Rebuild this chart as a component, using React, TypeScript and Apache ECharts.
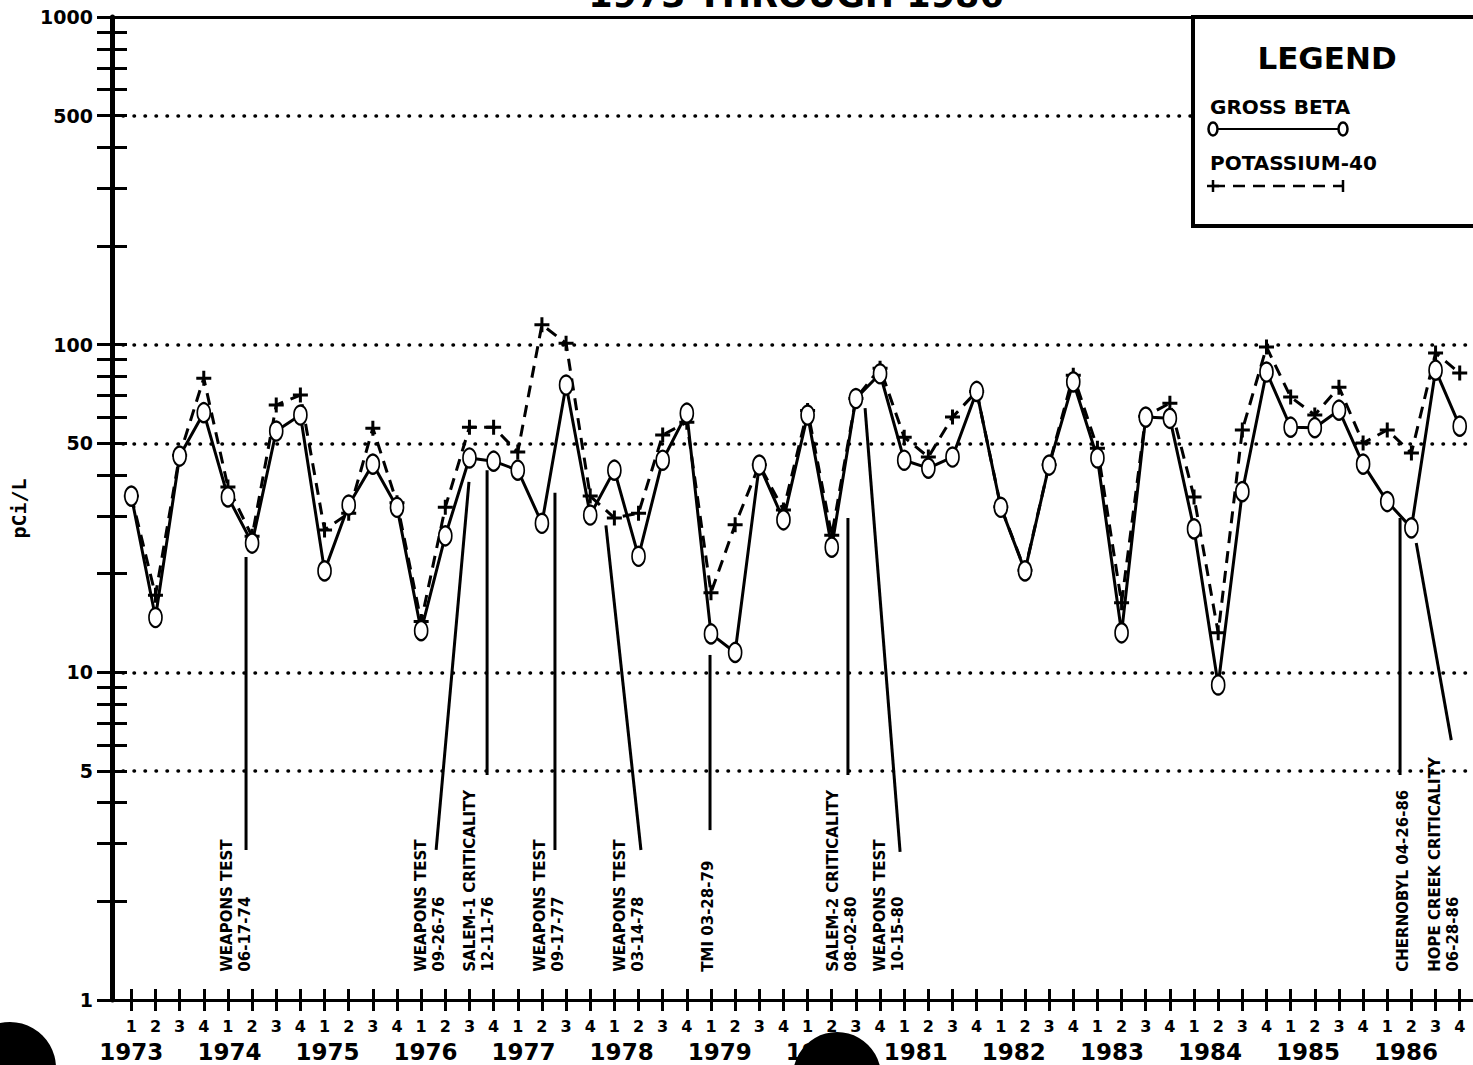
import React, { useEffect, useRef } from "react";
import * as echarts from "echarts";

// ---- data ----
const quarterNames = ["1", "2", "3", "4"];
const years = [1973, 1974, 1975, 1976, 1977, 1978, 1979, 1980, 1981, 1982, 1983, 1984, 1985, 1986];

const grossBeta = [
  34.5, 14.7, 45.7, 62, 34.3, 24.8, 54.5, 61, 20.4, 32.4, 43.2, 31.9, 13.4, 26.1,
  45.1, 44.1, 41.4, 28.5, 75.3, 30.2, 41.4, 22.6, 44.4, 61.8, 13.1, 11.5, 42.9, 29.2,
  61, 24.1, 68.5, 81.5, 44.4, 42.0, 45.4, 72, 31.9, 20.4, 42.9, 77, 45.1, 13.2,
  60.1, 59.6, 27.4, 9.15, 35.6, 82.5, 56, 55.8, 63.1, 43.2, 33.2, 27.6, 83.6, 56.4,
];

const potassium40 = [
  34.5, 17.2, 46, 79, 36.8, 26, 65.4, 70.2, 27.2, 30.6, 55.6, 32.9, 14.3, 31.9,
  56, 56, 47, 115, 101, 34.5, 29.6, 30.6, 53, 58, 17.5, 28.2, 43, 31.3,
  63, 26.2, 68.5, 84.8, 52.2, 45.4, 60.1, 72, 32, 20.5, 43, 80.7, 48.3, 16.3,
  60.5, 66.3, 34.3, 13.2, 54.9, 98.3, 69.2, 61, 74.2, 50.1, 54.9, 46.7, 94.3, 81.9,
];

const yTickValues = [
  1, 2, 3, 4, 5, 6, 7, 8, 9,
  10, 20, 30, 40, 50, 60, 70, 80, 90,
  100, 200, 300, 400, 500, 600, 700, 800, 900, 1000,
];
const yLabelValues = [1, 5, 10, 50, 100, 500, 1000];
const gridLineValues = [5, 10, 50, 100, 500];

// year label positions along the quarter index scale
const yearLabelPos = [0, 4.06, 8.12, 12.18, 16.24, 20.3, 24.36, 28.42, 32.48, 36.54, 40.6, 44.66, 48.72, 52.78];

// event annotations: text column position (quarter index), pointer line from/to [quarter index, pCi/L]
const annotationTextBase = 1.22;
const annotations = [
  { lines: ["WEAPONS TEST", "06-17-74"], textX: 3.96, from: [4.75, 2.87], to: [4.75, 22.5] },
  { lines: ["WEAPONS TEST", "09-26-76"], textX: 12.0, from: [12.62, 2.87], to: [13.98, 38.1] },
  { lines: ["SALEM-1 CRITICALITY", "12-11-76"], textX: 14.02, from: [14.73, 4.86], to: [14.73, 41.4] },
  { lines: ["WEAPONS TEST", "09-17-77"], textX: 16.93, from: [17.54, 2.87], to: [17.54, 35.3] },
  { lines: ["WEAPONS TEST", "03-14-78"], textX: 20.24, from: [21.1, 2.87], to: [19.65, 28.1] },
  { lines: ["TMI 03-28-79"], textX: 23.88, from: [23.96, 3.3], to: [23.96, 11.3] },
  { lines: ["SALEM-2 CRITICALITY", "08-02-80"], textX: 29.06, from: [29.67, 4.86], to: [29.67, 29.6] },
  { lines: ["WEAPONS TEST", "10-15-80"], textX: 31.0, from: [31.83, 2.83], to: [30.38, 64] },
  { lines: ["CHERNOBYL 04-26-86"], textX: 52.66, from: [52.53, 4.86], to: [52.53, 29.6] },
  { lines: ["HOPE CREEK CRITICALITY", "06-28-86"], textX: 53.98, from: [54.65, 6.21], to: [53.2, 24.8] },
];

const FONT = '"DejaVu Sans", "Liberation Sans", sans-serif';
const PLUS = "path://M6,0H9V6H15V9H9V15H6V9H0V6H6Z";

export default function App() {
  const ref = useRef<HTMLDivElement>(null);

  useEffect(() => {
    if (!ref.current) return;
    const chart = echarts.init(ref.current, undefined, { renderer: "svg" });
    const quarterIdx = grossBeta.map((_, i) => i);
    const black = "#000";

    const xBase: any = {
      type: "value",
      min: -0.8,
      max: 55.55,
      gridIndex: 0,
      position: "bottom",
      splitLine: { show: false },
    };
    const yBase: any = {
      type: "log",
      logBase: 10,
      min: 1,
      max: 1000,
      position: "left",
      splitLine: { show: false },
    };

    const option: any = {
      animation: false,
      backgroundColor: "#fff",
      grid: { left: 112, right: 0, top: 17, bottom: 65, containLabel: false },
      xAxis: [
        {
          ...xBase,
          axisLine: { show: true, onZero: false, lineStyle: { color: black, width: 3 } },
          axisTick: { show: true, inside: false, length: 11, customValues: quarterIdx, lineStyle: { color: black, width: 3 } },
          axisLabel: {
            customValues: quarterIdx,
            formatter: (v: number) => quarterNames[Math.round(v) % 4],
            margin: 18,
            color: black,
            fontSize: 16,
            fontWeight: "bold",
            fontFamily: FONT,
          },
        },
        {
          ...xBase,
          axisLine: { show: false, onZero: false },
          axisTick: { show: true, inside: true, length: 11, customValues: quarterIdx, lineStyle: { color: black, width: 3 } },
          axisLabel: { show: false },
        },
        {
          ...xBase,
          axisLine: { show: false, onZero: false },
          axisTick: { show: false },
          axisLabel: {
            customValues: yearLabelPos,
            formatter: (v: number) => {
              let best = 0;
              yearLabelPos.forEach((p, k) => {
                if (Math.abs(p - v) < Math.abs(yearLabelPos[best] - v)) best = k;
              });
              return String(years[best]);
            },
            margin: 40,
            color: black,
            fontSize: 23,
            fontWeight: "bold",
            fontFamily: FONT,
          },
        },
        {
          ...xBase,
          position: "top",
          axisLine: { show: true, onZero: false, lineStyle: { color: black, width: 3 } },
          axisTick: { show: false },
          axisLabel: { show: false },
        },
      ],
      yAxis: [
        {
          ...yBase,
          name: "pCi/L",
          nameLocation: "middle",
          nameGap: 76,
          nameRotate: 90,
          nameTextStyle: { color: black, fontSize: 20, fontWeight: "bold", fontFamily: '"DejaVu Sans Mono", monospace' },
          axisLine: { show: true, onZero: false, lineStyle: { color: black, width: 5 } },
          axisTick: { show: true, inside: false, length: 15, customValues: yTickValues, lineStyle: { color: black, width: 3 } },
          axisLabel: {
            customValues: yLabelValues,
            formatter: (v: number) => String(Math.round(v)),
            margin: 19,
            color: black,
            fontSize: 19,
            fontWeight: "bold",
            fontFamily: FONT,
          },
        },
        {
          ...yBase,
          axisLine: { show: false, onZero: false },
          axisTick: { show: true, inside: true, length: 15, customValues: yTickValues, lineStyle: { color: black, width: 3 } },
          axisLabel: { show: false },
        },
      ],
      series: [
        {
          name: "POTASSIUM-40",
          type: "line",
          xAxisIndex: 0,
          yAxisIndex: 0,
          data: potassium40.map((v, i) => [i, v]),
          symbol: PLUS,
          symbolSize: 15,
          itemStyle: { color: black },
          lineStyle: { color: black, width: 3, type: [12, 8] },
          z: 3,
        },
        {
          name: "GROSS BETA",
          type: "line",
          xAxisIndex: 0,
          yAxisIndex: 0,
          data: grossBeta.map((v, i) => [i, v]),
          symbol: "emptyCircle",
          symbolSize: [13, 19],
          itemStyle: { color: black, borderColor: black, borderWidth: 2.5 },
          lineStyle: { color: black, width: 3 },
          z: 4,
          markLine: {
            silent: true,
            symbol: ["none", "none"],
            label: { show: false },
            lineStyle: { color: black, type: [0.5, 10.5], width: 3.5, cap: "round" },
            emphasis: { disabled: true },
            data: gridLineValues.map((v) => ({ yAxis: v })),
          },
        },
        {
          name: "events",
          type: "custom",
          xAxisIndex: 0,
          yAxisIndex: 0,
          clip: false,
          silent: true,
          z: 2,
          data: annotations.map((a) => [a.textX, annotationTextBase]),
          renderItem: (params: any, api: any) => {
            const a = annotations[params.dataIndex];
            const base = api.coord([a.textX, annotationTextBase]);
            const p1 = api.coord(a.from);
            const p2 = api.coord(a.to);
            const children: any[] = a.lines.map((t, k) => ({
              type: "text",
              x: base[0] + k * 18,
              y: base[1],
              rotation: Math.PI / 2,
              style: {
                text: t,
                fill: black,
                font: `bold 15px ${FONT}`,
                align: "left",
                verticalAlign: "middle",
              },
            }));
            children.push({
              type: "line",
              shape: { x1: p1[0], y1: p1[1], x2: p2[0], y2: p2[1] },
              style: { stroke: black, lineWidth: 3 },
            });
            return { type: "group", children };
          },
        },
      ],
      graphic: [
        {
          type: "text",
          x: 796,
          y: 12,
          z: 100,
          style: { text: "1973 THROUGH 1986", fill: black, font: `bold 35px ${FONT}`, align: "center", verticalAlign: "bottom" },
        },
        {
          type: "rect",
          z: 100,
          shape: { x: 1193, y: 17, width: 300, height: 209 },
          style: { fill: "#fff", stroke: black, lineWidth: 4 },
        },
        {
          type: "text",
          x: 1327,
          y: 58,
          z: 101,
          style: { text: "LEGEND", fill: black, font: `bold 31px ${FONT}`, align: "center", verticalAlign: "middle" },
        },
        {
          type: "text",
          x: 1210,
          y: 107,
          z: 101,
          style: { text: "GROSS BETA", fill: black, font: `bold 20px ${FONT}`, align: "left", verticalAlign: "middle" },
        },
        {
          type: "line",
          z: 101,
          shape: { x1: 1213, y1: 129, x2: 1343, y2: 129 },
          style: { stroke: black, lineWidth: 2 },
        },
        {
          type: "ellipse",
          z: 102,
          shape: { cx: 1213, cy: 129, rx: 4.5, ry: 6.5 },
          style: { fill: "#fff", stroke: black, lineWidth: 2.5 },
        },
        {
          type: "ellipse",
          z: 102,
          shape: { cx: 1343, cy: 129, rx: 4.5, ry: 6.5 },
          style: { fill: "#fff", stroke: black, lineWidth: 2.5 },
        },
        {
          type: "text",
          x: 1210,
          y: 163,
          z: 101,
          style: { text: "POTASSIUM-40", fill: black, font: `bold 20px ${FONT}`, align: "left", verticalAlign: "middle" },
        },
        {
          type: "line",
          z: 101,
          shape: { x1: 1213, y1: 186, x2: 1343, y2: 186 },
          style: { stroke: black, lineWidth: 2.5, lineDash: [12, 8] },
        },
        {
          type: "line",
          z: 101,
          shape: { x1: 1207, y1: 186, x2: 1219, y2: 186 },
          style: { stroke: black, lineWidth: 2.5 },
        },
        {
          type: "line",
          z: 101,
          shape: { x1: 1213, y1: 180, x2: 1213, y2: 192 },
          style: { stroke: black, lineWidth: 2.5 },
        },
        {
          type: "line",
          z: 101,
          shape: { x1: 1343, y1: 180, x2: 1343, y2: 192 },
          style: { stroke: black, lineWidth: 2.5 },
        },
        {
          type: "circle",
          z: 110,
          shape: { cx: 10, cy: 1068, r: 46 },
          style: { fill: black },
        },
        {
          type: "circle",
          z: 110,
          shape: { cx: 837, cy: 1076, r: 44 },
          style: { fill: black },
        },
      ],
    };

    chart.setOption(option);
    return () => chart.dispose();
  }, []);

  return (
    <div
      ref={ref}
      style={{ position: "absolute", left: 0, top: 0, width: 1473, height: 1065, background: "#fff" }}
    />
  );
}
